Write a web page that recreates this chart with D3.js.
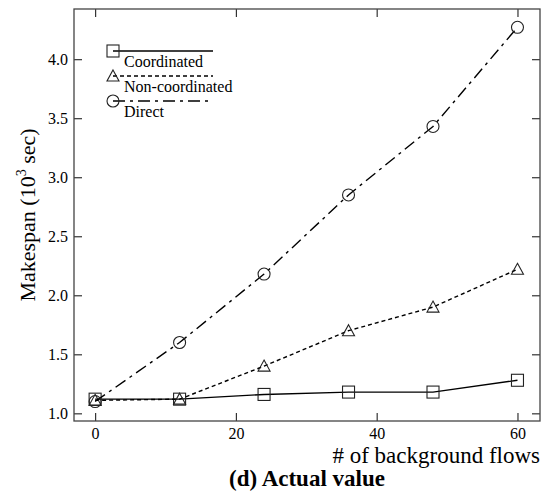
<!DOCTYPE html>
<html>
<head>
<meta charset="utf-8">
<script src="https://cdn.jsdelivr.net/npm/d3@7"></script>
<style>
  body { margin: 0; background: #fff; }
</style>
</head>
<body>
<div id="chart"></div>
<script>
// flows on the x axis
var flows = [0, 12, 24, 36, 48, 60];
var coordinated = [1.12, 1.12, 1.16, 1.18, 1.18, 1.28];
var nonCoordinated = [1.11, 1.12, 1.40, 1.70, 1.90, 2.22];
var direct = [1.10, 1.60, 2.18, 2.85, 3.43, 4.27];
var xTicks = [0, 20, 40, 60];
var yTicks = [1.0, 1.5, 2.0, 2.5, 3.0, 3.5, 4.0];
var seriesNames = ["Coordinated", "Non-coordinated", "Direct"];

var FONT = '"Liberation Serif", "DejaVu Serif", serif';
var W = 546, H = 495;
var margin = { top: 9, left: 74, bottom: 74, right: 6 },
    width = W - margin.left - margin.right,
    height = H - margin.top - margin.bottom;

var svg = d3.select('#chart').append('svg')
    .attr('width', W)
    .attr('height', H)
    .attr('font-family', FONT)
  .append('g')
    .attr('transform', 'translate(' + margin.left + ',' + margin.top + ')');

var x = d3.scaleLinear().domain([-3.0, 63.2]).range([0, width]);
var y = d3.scaleLinear().domain([0.935, 4.425]).range([height, 0]);

var series = [
  { name: seriesNames[0], values: coordinated, dash: null, marker: 'square' },
  { name: seriesNames[1], values: nonCoordinated, dash: '4,3', marker: 'triangle' },
  { name: seriesNames[2], values: direct, dash: '12,5,3,5', marker: 'circle' }
];

// axes with inward ticks on all four sides
var tl = 8;
svg.append('g').attr('class', 'x_axis')
  .attr('transform', 'translate(0,' + height + ')')
  .call(d3.axisBottom(x).tickValues(xTicks).tickSizeInner(-tl).tickSizeOuter(0).tickPadding(7).tickFormat(d3.format('d')));
svg.append('g')
  .call(d3.axisTop(x).tickValues(xTicks).tickSizeInner(-tl).tickSizeOuter(0).tickFormat(''));
svg.append('g').attr('class', 'y_axis')
  .call(d3.axisLeft(y).tickValues(yTicks).tickSizeInner(-tl).tickSizeOuter(0).tickPadding(6).tickFormat(d3.format('.1f')));
svg.append('g')
  .attr('transform', 'translate(' + width + ',0)')
  .call(d3.axisRight(y).tickValues(yTicks).tickSizeInner(-tl).tickSizeOuter(0).tickFormat(''));

svg.selectAll('.domain').remove();
svg.selectAll('g').attr('font-family', FONT);
svg.selectAll('.tick line').attr('stroke', '#333').attr('stroke-width', 1.2);
svg.selectAll('.tick text').style('font-family', FONT).style('font-size', '16px').attr('fill', '#000');

svg.append('rect')
  .attr('width', width).attr('height', height)
  .attr('fill', 'none').attr('stroke', '#444').attr('stroke-width', 1.3);

var line = d3.line()
  .x(function (d, i) { return x(flows[i]); })
  .y(function (d) { return y(d); });

function drawMarker(g, type, cx, cy) {
  if (type === 'square') {
    g.append('rect').attr('x', cx - 6).attr('y', cy - 6).attr('width', 12).attr('height', 12)
      .attr('fill', 'none').attr('stroke', '#222').attr('stroke-width', 1.1);
  } else if (type === 'triangle') {
    g.append('path').attr('d', 'M' + cx + ',' + (cy - 6) + 'L' + (cx + 6) + ',' + (cy + 5) + 'L' + (cx - 6) + ',' + (cy + 5) + 'Z')
      .attr('fill', 'none').attr('stroke', '#222').attr('stroke-width', 1.1);
  } else {
    g.append('circle').attr('cx', cx).attr('cy', cy).attr('r', 6)
      .attr('fill', 'none').attr('stroke', '#222').attr('stroke-width', 1.1);
  }
}

series.forEach(function (s) {
  svg.append('path')
    .datum(s.values)
    .attr('d', line)
    .attr('fill', 'none')
    .attr('stroke', '#000')
    .attr('stroke-width', 1.4)
    .attr('stroke-dasharray', s.dash);
  var g = svg.append('g');
  s.values.forEach(function (v, i) { drawMarker(g, s.marker, x(flows[i]), y(v)); });
});

// legend
var lx = 113 - margin.left, ly = 51 - margin.top;
series.forEach(function (s, i) {
  var yy = ly + i * 25;
  svg.append('line')
    .attr('x1', lx).attr('x2', lx + 100).attr('y1', yy).attr('y2', yy)
    .attr('stroke', '#000').attr('stroke-width', 1.3)
    .attr('stroke-dasharray', s.dash);
  drawMarker(svg.append('g'), s.marker, lx, yy);
  svg.append('text')
    .attr('x', lx + 11).attr('y', yy + 16)
    .style('font-family', FONT)
    .style('font-size', '16px')
    .text(s.name);
});

// labels
var yl = svg.append('text')
  .attr('transform', 'translate(' + (-39) + ',' + (height / 2) + ') rotate(-90)')
  .attr('text-anchor', 'middle')
  .style('font-family', FONT)
  .style('font-size', '22px');
yl.append('tspan').text('Makespan (10');
yl.append('tspan').attr('dy', -9).style('font-size', '14px').text('3');
yl.append('tspan').attr('dy', 9).text(' sec)');

svg.append('text')
  .attr('x', width).attr('y', height + 42)
  .attr('text-anchor', 'end')
  .style('font-family', FONT)
  .style('font-size', '23px')
  .text('# of background flows');

svg.append('text')
  .attr('x', width / 2).attr('y', height + 65)
  .attr('text-anchor', 'middle')
  .style('font-family', FONT)
  .style('font-size', '23px')
  .style('font-weight', 'bold')
  .text('(d) Actual value');
</script>
</body>
</html>
